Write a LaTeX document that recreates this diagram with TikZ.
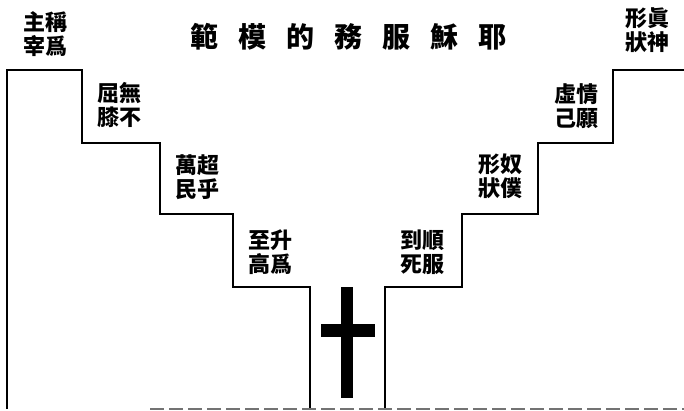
\documentclass[tikz,border=0pt]{standalone}
\usepackage{fontspec}
\newfontfamily\cjk{Noto Sans CJK TC}
\tikzstyle{virtue}=[align=center, inner sep=0pt, font=\cjk\bfseries\fontsize{22}{24}\selectfont]
\tikzstyle{heading}=[inner sep=0pt, font=\cjk\bfseries\fontsize{28}{30}\selectfont]
\tikzstyle{wall}=[line width=1.6pt, line join=miter]
\tikzstyle{ground}=[line width=1.2pt, black!55, dash pattern=on 14pt off 5pt]
\tikzstyle{cross}=[fill=black, draw=none]

\begin{document}
\begin{tikzpicture}[x=1pt, y=-1pt]
  \useasboundingbox (0,0) rectangle (684,411);

  %% Title
  \draw (348.5,37) node[heading] (T) {範\hspace{20pt}模\hspace{20pt}的\hspace{20pt}務\hspace{20pt}服\hspace{20pt}穌\hspace{20pt}耶};

  %% Steps going down
  \draw[wall] (7,409) -- (7,70) -- (82,70) -- (82,143) -- (160,143) -- (160,214)
    -- (233,214) -- (233,287) -- (310,287) -- (310,409);
  %% Steps going up
  \draw[wall] (385,409) -- (385,287) -- (462,287) -- (462,214) -- (538,214)
    -- (538,143) -- (613,143) -- (613,70) -- (684,70);
  \draw[ground] (150,409) -- (684,409);

  %% Cross
  \fill[cross] (341,287) rectangle (353,398);
  \fill[cross] (321,324) rectangle (375,337);

  %% Left side
  \draw (45,34) node[virtue] (Ruler) {主稱\\宰爲};
  \draw (119,105) node[virtue] (Knee) {屈無\\膝不};
  \draw (197,177) node[virtue] (Above) {萬超\\民乎};
  \draw (270,252) node[virtue] (High) {至升\\高爲};

  %% Right side
  \draw (422,252) node[virtue] (Death) {到順\\死服};
  \draw (500,176) node[virtue] (Servant) {形奴\\狀僕};
  \draw (576,106) node[virtue] (Self) {虛情\\己願};
  \draw (647,30) node[virtue] (God) {形眞\\狀神};
\end{tikzpicture}
\end{document}
